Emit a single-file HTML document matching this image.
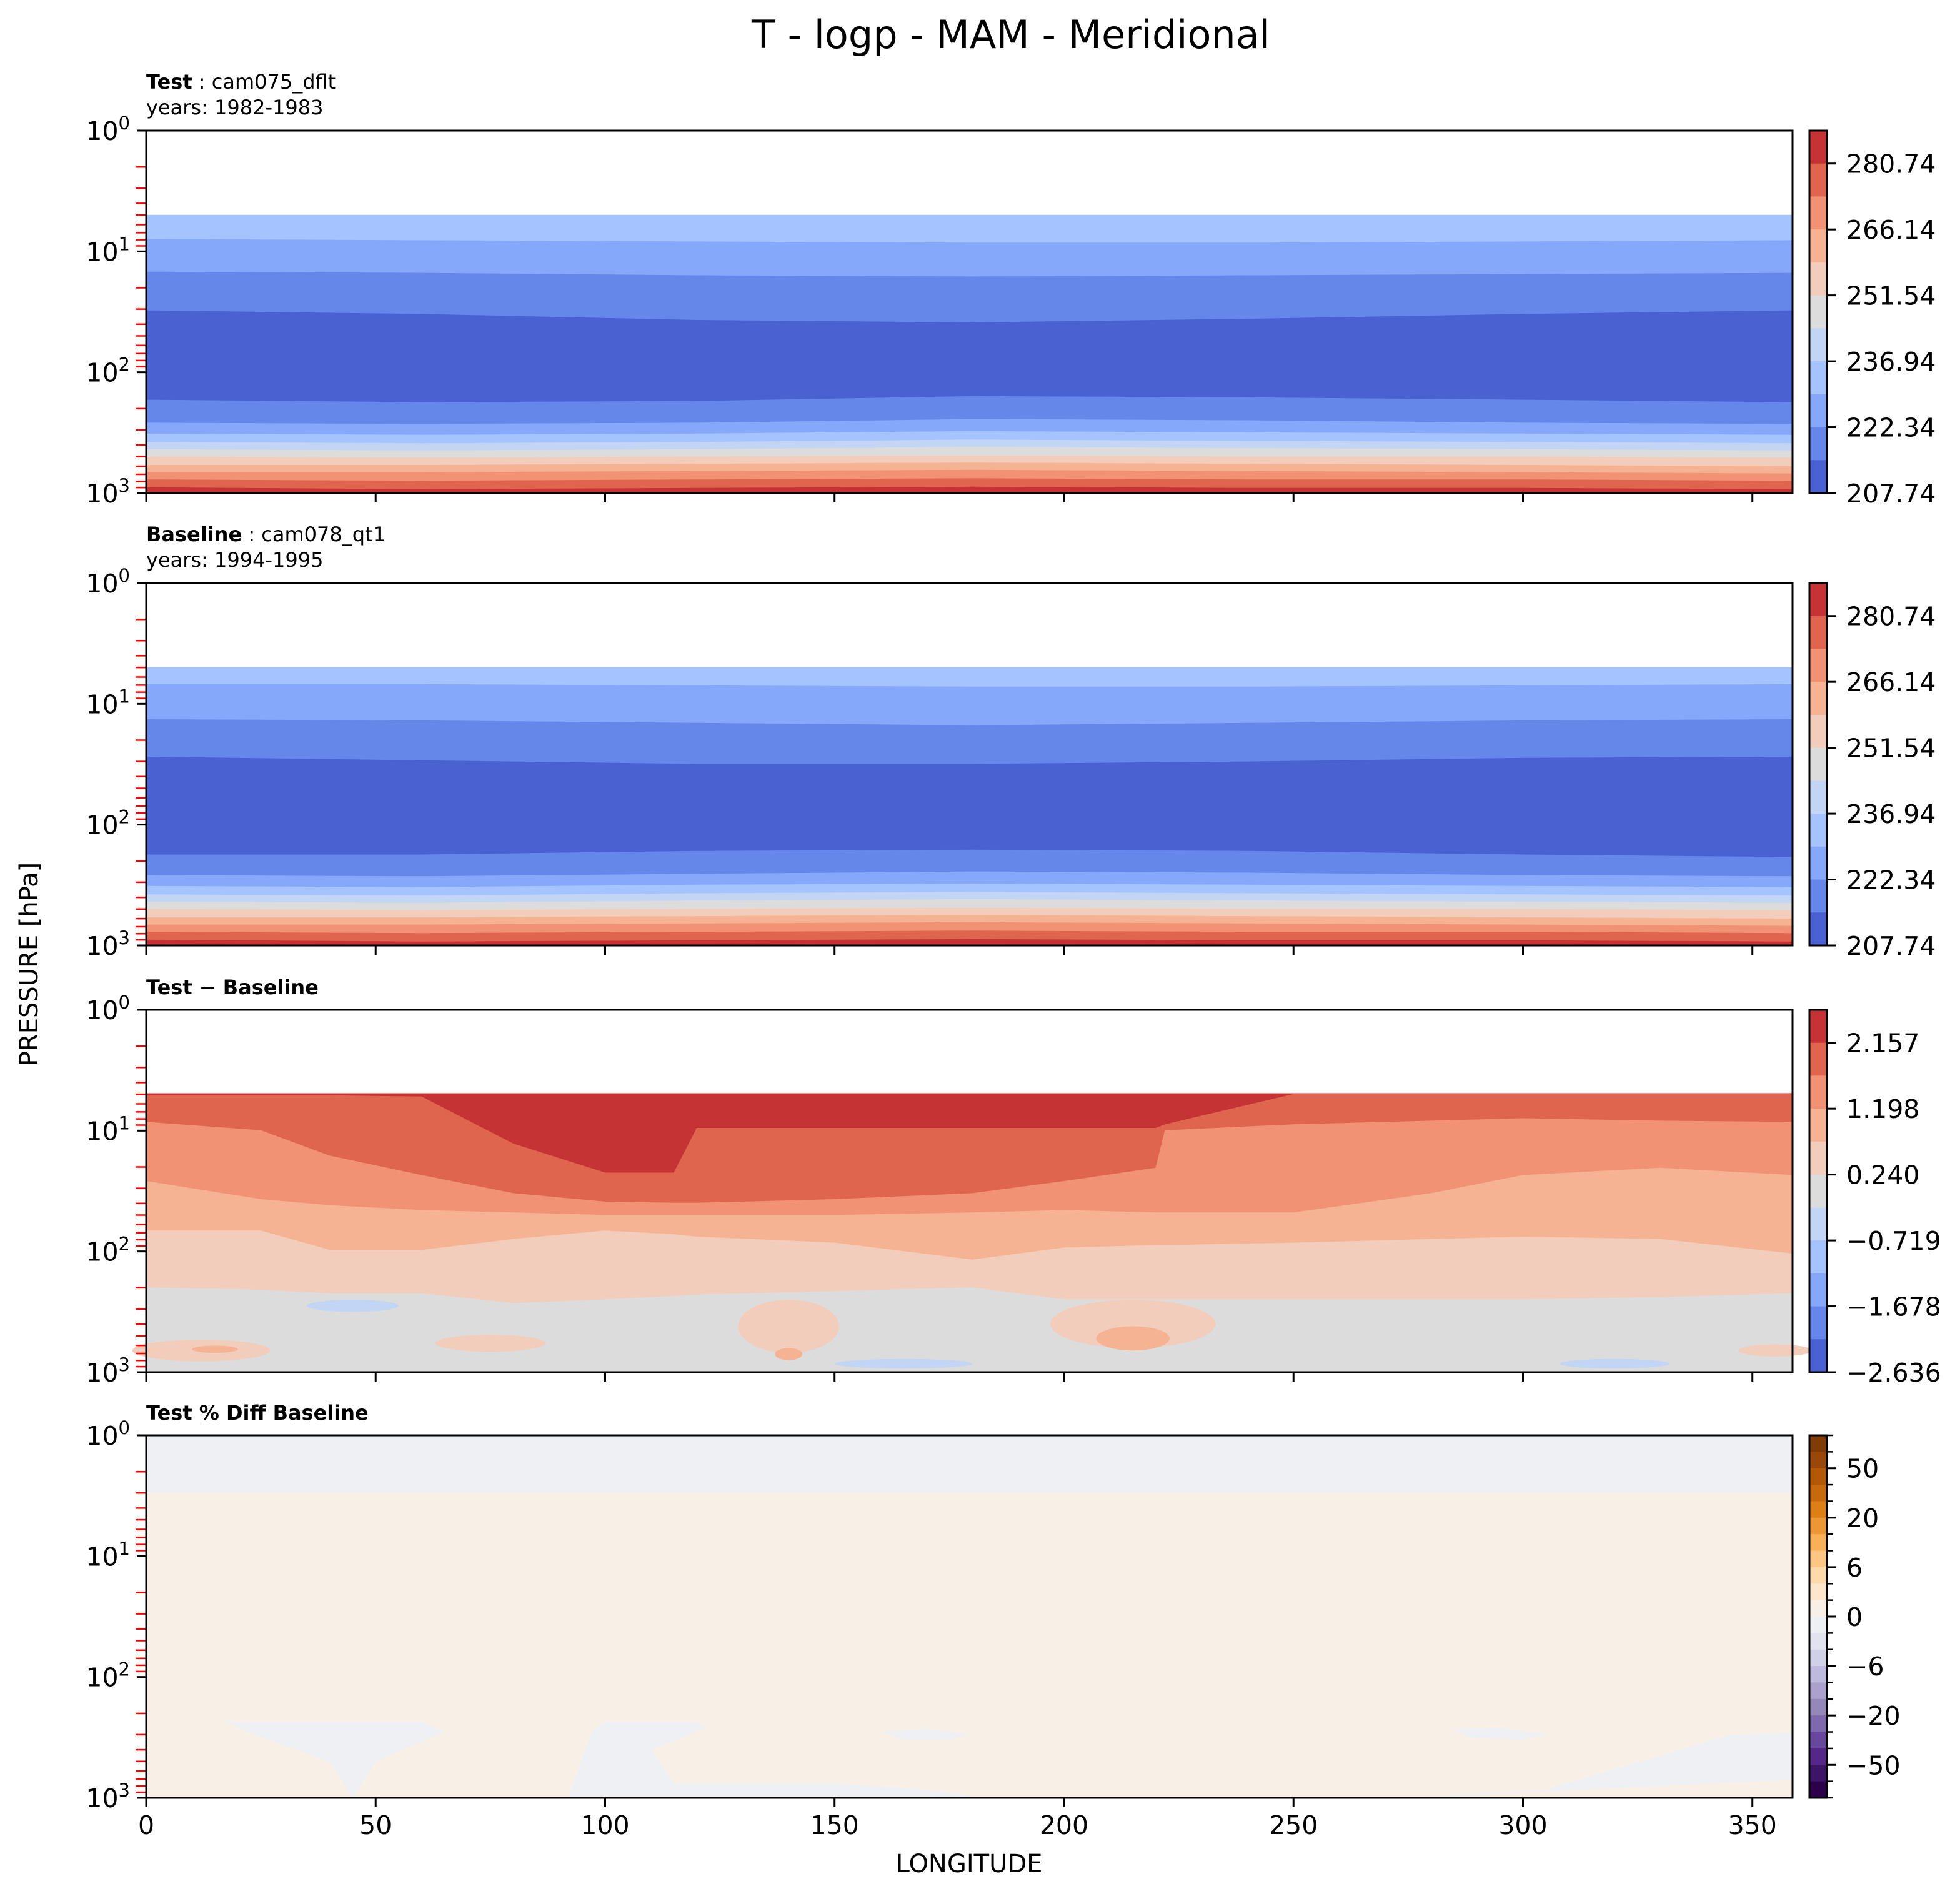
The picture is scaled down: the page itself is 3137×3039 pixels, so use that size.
<!DOCTYPE html>
<html><head><meta charset="utf-8"><style>
html,body{margin:0;padding:0;background:#fff}
svg text{font-family:"DejaVu Sans","Liberation Sans",sans-serif}
</style></head><body>
<svg id="fig" width="3137" height="3034" viewBox="0 0 3137 3034" xmlns="http://www.w3.org/2000/svg">
<text x="1618" y="77" font-size="62" text-anchor="middle">T - logp - MAM - Meridional</text>
<text x="0" y="0" font-size="40" text-anchor="middle" transform="translate(60,1543) rotate(-90)">PRESSURE [hPa]</text>
<text x="1551" y="2996" font-size="40" text-anchor="middle">LONGITUDE</text>
<g id="plots"></g>
</svg>
<script>
// ---- data ----
const coolwarm = ["#4961d1","#6587e9","#86a8fb","#a5c3fe","#c3d5f4","#dcdcdc","#f2cdbb","#f5b394","#f29274","#e0654e","#c53334"];
const puor = ["#7f3b08","#99480a","#b35806","#c76a0d","#dc7f17","#eb9736","#f8b158","#fdc683","#fed9a9","#fee6cc","#f8f0e7","#eff0f3","#e3e2ef","#d0d0e6","#bebade","#aba1cc","#9488b9","#7d69ab","#68479c","#542788","#3d1566","#2d004b"];
const xTicks = [0,50,100,150,200,250,300,350];
const lonMax = 358.75;
const lonPts = [0,60,120,180,240,300,358.75];
const p1Bounds = [
 [0.70,0.70,0.70,0.70,0.70,0.70,0.70],
 [0.90,0.91,0.92,0.93,0.93,0.92,0.91],
 [1.17,1.18,1.20,1.21,1.20,1.19,1.18],
 [1.49,1.52,1.57,1.59,1.56,1.52,1.49],
 [2.23,2.25,2.24,2.20,2.21,2.23,2.25],
 [2.42,2.43,2.42,2.39,2.40,2.42,2.43],
 [2.51,2.52,2.51,2.49,2.50,2.51,2.52],
 [2.58,2.59,2.58,2.56,2.57,2.58,2.59],
 [2.64,2.65,2.64,2.62,2.63,2.64,2.65],
 [2.70,2.71,2.70,2.69,2.70,2.70,2.71],
 [2.77,2.77,2.76,2.75,2.76,2.77,2.78],
 [2.83,2.83,2.82,2.81,2.82,2.83,2.84],
 [2.89,2.90,2.89,2.88,2.89,2.89,2.90],
 [2.955,2.97,2.96,2.95,2.96,2.96,2.97],
 [3,3,3,3,3,3,3]];
const p1Colors = [3,2,1,0,1,2,3,4,5,6,7,8,9,10];
const p2Bounds = [
 [0.70,0.70,0.70,0.70,0.70,0.70,0.70],
 [0.84,0.84,0.85,0.86,0.86,0.85,0.84],
 [1.13,1.14,1.16,1.18,1.16,1.14,1.13],
 [1.44,1.47,1.50,1.50,1.48,1.45,1.44],
 [2.25,2.25,2.22,2.21,2.22,2.25,2.27],
 [2.42,2.43,2.41,2.39,2.40,2.42,2.43],
 [2.51,2.52,2.50,2.49,2.50,2.51,2.52],
 [2.58,2.59,2.57,2.56,2.57,2.58,2.59],
 [2.64,2.65,2.63,2.62,2.63,2.64,2.65],
 [2.70,2.71,2.70,2.69,2.70,2.70,2.71],
 [2.77,2.77,2.76,2.75,2.76,2.77,2.78],
 [2.83,2.83,2.82,2.81,2.82,2.83,2.84],
 [2.89,2.90,2.89,2.88,2.89,2.89,2.90],
 [2.955,2.97,2.96,2.95,2.96,2.96,2.97],
 [3,3,3,3,3,3,3]];
const p2Colors = [3,2,1,0,1,2,3,4,5,6,7,8,9,10];
const p3Lon = [0,25,40,60,80,100,115,120,150,180,200,220,222,250,280,300,330,358.75];
const p3Bounds = [
 [0.693,0.693,0.693,0.693,0.693,0.693,0.693,0.693,0.693,0.693,0.693,0.693,0.693,0.693,0.693,0.693,0.693,0.693],
 [0.71,0.71,0.71,0.72,1.11,1.35,1.35,0.98,0.98,0.98,0.98,0.98,0.95,0.70,0.70,0.70,0.70,0.70],
 [0.93,1.00,1.21,1.37,1.52,1.59,1.60,1.60,1.57,1.52,1.42,1.31,1.00,0.95,0.92,0.90,0.92,0.93],
 [1.42,1.57,1.62,1.66,1.68,1.70,1.70,1.70,1.70,1.68,1.66,1.68,1.68,1.68,1.52,1.37,1.31,1.37],
 [1.83,1.83,1.99,1.99,1.90,1.83,1.86,1.88,1.93,2.07,1.97,1.95,1.95,1.93,1.90,1.88,1.90,2.02],
 [2.30,2.32,2.35,2.35,2.43,2.40,2.37,2.36,2.33,2.30,2.40,2.40,2.40,2.40,2.40,2.40,2.38,2.35],
 [3,3,3,3,3,3,3,3,3,3,3,3,3,3,3,3,3,3]];
const p3Colors = [10,9,8,7,6,5];
const p3BlobLon = [140,215,45,75,12,15,355,165,320,215,140];
const p3BlobLogp = [2.62,2.6,2.45,2.76,2.82,2.81,2.82,2.93,2.93,2.72,2.85];
const p3BlobRLon = [11,18,10,12,15,5,8,15,12,8,3];
const p3BlobRLogp = [0.22,0.2,0.05,0.07,0.09,0.03,0.05,0.04,0.04,0.1,0.05];
const p3BlobColor = [6,6,4,6,6,7,6,4,4,7,7];
const p4Split = 0.476;
const p4PolyLon = [
 [17,60,65,50,45,40,25],
 [92,97,100,120,122,110,115,150,170,182],
 [160,170,180,175,165],
 [285,295,305,300,288],
 [275,305,330,345,358.75,358.75]];
const p4PolyLogp = [
 [2.37,2.37,2.45,2.7,3.0,2.7,2.5],
 [3.0,2.45,2.37,2.37,2.42,2.6,2.88,2.88,2.93,3.0],
 [2.45,2.43,2.47,2.52,2.52],
 [2.43,2.42,2.47,2.52,2.5],
 [3.0,2.93,2.65,2.48,2.46,2.85]];
const cb1Labels = ["280.74","266.14","251.54","236.94","222.34","207.74"];
const cb3Labels = ["2.157","1.198","0.240","\u22120.719","\u22121.678","\u22122.636"];
const cb4Labels = ["50","20","6","0","\u22126","\u221220","\u221250"];

const NS = "http://www.w3.org/2000/svg";
const L = 234, R = 2869, H = 580;
const tops = [209, 933, 1616, 2297];
const g = document.getElementById('plots');
function xs(lon){ return L + lon / lonMax * (R - L); }
function mk(tag, attrs, parent){ const e = document.createElementNS(NS, tag); for (const k in attrs) e.setAttribute(k, attrs[k]); (parent||g).appendChild(e); return e; }
function ys(top, lp){ return top + lp / 3 * H; }

function bandPanel(top, lons, bounds, colors, grp){
  for (let b = 0; b < colors.length; b++){
    let pts = [];
    for (let i = 0; i < lons.length; i++) pts.push(xs(lons[i]).toFixed(1) + "," + ys(top, bounds[b][i]).toFixed(1));
    for (let i = lons.length - 1; i >= 0; i--) pts.push(xs(lons[i]).toFixed(1) + "," + ys(top, bounds[b+1][i]).toFixed(1));
    const p = mk('polygon', {points: pts.join(' '), fill: coolwarm[colors[b]], stroke: coolwarm[colors[b]], 'stroke-width': 1}, grp);
    
    
  }
}

function axesFrame(i, showX){
  const top = tops[i];
  const ax = mk('g', {});
  
  
  for (let d = 0; d < 3; d++) for (let m = 2; m <= 9; m++){
    const y = ys(top, d + Math.log10(m));
    const t = mk('line', {x1: L-17, x2: L, y1: y, y2: y, stroke: '#ff0000', 'stroke-width': 2.5}, ax);
    
    
  }
  for (let d = 0; d <= 3; d++){
    const y = ys(top, d);
    const t = mk('line', {x1: L-15, x2: L, y1: y, y2: y, stroke: '#000', 'stroke-width': 3}, ax);
    
    
    const tx = mk('text', {x: L-26, y: y+15, 'font-size': 41, 'text-anchor': 'end'}, ax);
    
    
    const a = document.createElementNS(NS, 'tspan'); a.textContent = '10'; tx.appendChild(a);
    const b = document.createElementNS(NS, 'tspan'); b.setAttribute('dy', -17); b.setAttribute('font-size', 29); b.textContent = String(d); tx.appendChild(b);
  }
  xTicks.forEach(v => {
    const x = xs(v);
    const t = mk('line', {x1: x, x2: x, y1: top+H, y2: top+H+15, stroke: '#000', 'stroke-width': 3}, ax);
    
    
    if (showX){
      const tx = mk('text', {x: x, y: top+H+58, 'font-size': 41, 'text-anchor': 'middle'}, ax);
      
      
      tx.textContent = String(v);
    }
  });
  const r = mk('rect', {x: L, y: top, width: R-L, height: H, fill: 'none', stroke: '#000', 'stroke-width': 3}, ax);
  
  
}

function colorbar(i, colors, labels, tickSegs, allTicks){
  const top = tops[i], x0 = 2896, w = 28;
  const cb = mk('g', {});
  
  
  const n = colors.length, seg = H / n;
  for (let k = 0; k < n; k++){
    const r = mk('rect', {x: x0, y: top + k*seg, width: w, height: seg+0.6, fill: colors[k]}, cb);
    
    
  }
  if (allTicks){
    for (let k = 0; k <= n; k++){
      const y = top + k*seg;
      const t = mk('line', {x1: x0+w, x2: x0+w+10, y1: y, y2: y, stroke: '#000', 'stroke-width': 2.5}, cb);
      
      
    }
  }
  labels.forEach((lab, k) => {
    const y = top + tickSegs[k]*seg;
    const t = mk('line', {x1: x0+w, x2: x0+w+15, y1: y, y2: y, stroke: '#000', 'stroke-width': 3}, cb);
    
    
    const tx = mk('text', {x: 2955, y: y+15, 'font-size': 41}, cb);
    
    
    tx.textContent = lab;
  });
  const b = mk('rect', {x: x0, y: top, width: w, height: H, fill: 'none', stroke: '#000', 'stroke-width': 3}, cb);
  
  
}

function subtitle(i, bold, rest, years){
  const top = tops[i];
  const t = mk('text', {x: L, y: years ? top-67 : top-25, 'font-size': 32});
  
  
  const a = document.createElementNS(NS, 'tspan'); a.setAttribute('font-weight', 'bold'); a.textContent = bold; t.appendChild(a);
  if (rest){ const b = document.createElementNS(NS, 'tspan'); b.textContent = rest; t.appendChild(b); }
  if (years){
    const y = mk('text', {x: L, y: top-26, 'font-size': 32});
    
    
    y.textContent = years;
  }
}

[[p1Bounds,p1Colors],[p2Bounds,p2Colors]].forEach((pd, i) => {
  const grp = mk('g', {});
  
  
  bandPanel(tops[i], lonPts, pd[0], pd[1], grp);
});
{
  const grp = mk('g', {});
  
  
  bandPanel(tops[2], p3Lon, p3Bounds, p3Colors, grp);
  for (let k = 0; k < p3BlobLon.length; k++){
    const e = mk('ellipse', {cx: xs(p3BlobLon[k]), cy: ys(tops[2], p3BlobLogp[k]), rx: p3BlobRLon[k]/lonMax*(R-L), ry: p3BlobRLogp[k]/3*H, fill: coolwarm[p3BlobColor[k]]}, grp);
    
    
  }
}
{
  const grp = mk('g', {});
  
  
  const t = tops[3];
  const a = mk('rect', {x: L, y: t, width: R-L, height: ys(t, p4Split)-t, fill: puor[11]}, grp);
  
  
  const b = mk('rect', {x: L, y: ys(t, p4Split), width: R-L, height: t+H-ys(t, p4Split), fill: puor[10]}, grp);
  
  
  for (let k = 0; k < p4PolyLon.length; k++){
    const pts = p4PolyLon[k].map((lo, j) => xs(lo).toFixed(1) + ',' + ys(t, p4PolyLogp[k][j]).toFixed(1)).join(' ');
    const p = mk('polygon', {points: pts, fill: puor[11]}, grp);
    
    
  }
}
axesFrame(0,false); axesFrame(1,false); axesFrame(2,false); axesFrame(3,true);
const cwTop = coolwarm.slice().reverse();
colorbar(0, cwTop, cb1Labels, [1,3,5,7,9,11], false);
colorbar(1, cwTop, cb1Labels, [1,3,5,7,9,11], false);
colorbar(2, cwTop, cb3Labels, [1,3,5,7,9,11], false);
colorbar(3, puor, cb4Labels, [2,5,8,11,14,17,20], true);
subtitle(0, 'Test', ' : cam075_dflt', 'years: 1982-1983');
subtitle(1, 'Baseline', ' : cam078_qt1', 'years: 1994-1995');
subtitle(2, 'Test \u2212 Baseline', '', null);
subtitle(3, 'Test % Diff Baseline', '', null);
</script>
</body></html>
